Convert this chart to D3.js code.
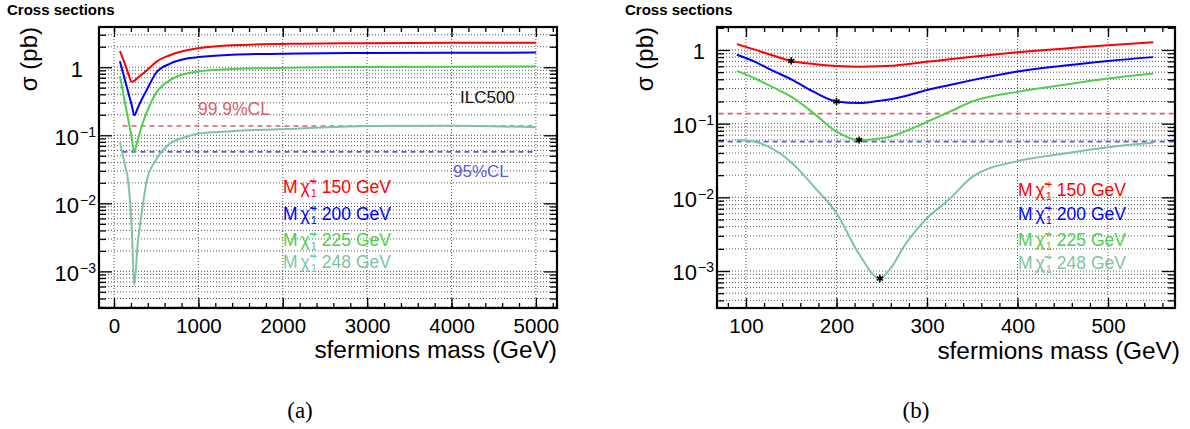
<!DOCTYPE html>
<html>
<head>
<meta charset="utf-8">
<script src="https://cdn.jsdelivr.net/npm/d3@7"></script>
<style>
  body { margin: 0; background: #fff; }
  svg { font-family: "Liberation Sans", Arial, Helvetica, sans-serif; }
</style>
</head>
<body>
<svg id="canvas"></svg>
<script>
// --- data ---
// panel (a): 0 - 5000 GeV
const massA  = [70, 120, 170, 210, 240, 280, 330, 390, 500, 660, 860, 1000, 1400, 2200, 3000, 4000, 5000]
const redA   = [1.72, 1.2, 0.8, 0.61, 0.63, 0.7, 0.78, 0.9, 1.2, 1.5, 1.78, 1.9, 2.1, 2.22, 2.26, 2.28, 2.28]
const blueA  = [1.22, 0.72, 0.42, 0.277, 0.197, 0.25, 0.34, 0.47, 0.83, 1.12, 1.34, 1.41, 1.53, 1.59, 1.62, 1.63, 1.64]
const greenA = [0.74, 0.35, 0.166, 0.092, 0.057, 0.085, 0.138, 0.22, 0.42, 0.64, 0.81, 0.87, 0.94, 0.99, 1.01, 1.02, 1.03]
const tealA  = [0.079, 0.041, 0.02, 0.0045, 0.00063, 0.0025, 0.0075, 0.022, 0.044, 0.075, 0.095, 0.106, 0.115, 0.126, 0.137, 0.138, 0.131]

// panel (b): 90 - 550 GeV
const massB  = [90, 110, 130, 150, 175, 200, 225, 248, 260, 275, 300, 325, 350, 400, 450, 500, 550]
const redB   = [1.2, 1.01, 0.84, 0.71, 0.645, 0.607, 0.593, 0.6, 0.61, 0.635, 0.69, 0.75, 0.81, 0.93, 1.04, 1.16, 1.27]
const blueB  = [0.86, 0.69, 0.52, 0.4, 0.27, 0.2, 0.19, 0.205, 0.215, 0.235, 0.287, 0.335, 0.39, 0.51, 0.61, 0.71, 0.8]
const greenB = [0.52, 0.41, 0.31, 0.232, 0.138, 0.078, 0.06, 0.063, 0.067, 0.078, 0.106, 0.145, 0.2, 0.27, 0.335, 0.41, 0.48]
const tealB  = [0.06, 0.057, 0.045, 0.03, 0.014, 0.0061, 0.0017, 0.00079, 0.0011, 0.0022, 0.0052, 0.0095, 0.019, 0.031, 0.039, 0.048, 0.055]

// chargino masses, marked with stars in (b)
const charginoMass = [150, 200, 225, 248]
const charginoSigma = [0.71, 0.2, 0.06, 0.00079]
const legendLabels = ['150 GeV', '200 GeV', '225 GeV', '248 GeV']

// exclusion lines
const cl999 = 0.137
const cl95 = 0.057
const clRangeA = [100, 5000]
const clRangeB = [50, 600]

const xTicksA = [0, 1000, 2000, 3000, 4000, 5000]
const xTicksB = [100, 200, 300, 400, 500]
const yTicks = [1e-3, 1e-2, 1e-1, 1]

const colors = ['#ff0000', '#0000ff', '#4fcf4f', '#80c3a3']

let w = 1190
let h = 429

let canvas = d3.select('#canvas').attr('width', w).attr('height', h)

let panels = [
  { id: 'a', left: 99, top: 27, right: 557, bottom: 308,
    xDomain: [-178, 5250], yDomain: [2.9e-4, 3.9],
    xTicks: xTicksA, xMinor: d3.range(0, 5250, 200),
    mass: massA, series: [redA, blueA, greenA, tealA],
    clRange: clRangeA, titleX: 7, ytX: 37, xtX: 557, xtY: 358,
    legX: 283, legY: [193, 220, 246, 268], caption: 300, one: 16 },
  { id: 'b', left: 717, top: 27, right: 1175, bottom: 308,
    xDomain: [68, 574], yDomain: [3.15e-4, 2.05],
    xTicks: xTicksB, xMinor: d3.range(80, 574, 20),
    mass: massB, series: [redB, blueB, greenB, tealB],
    clRange: clRangeB, titleX: 625, ytX: 653, xtX: 1180, xtY: 359,
    legX: 1018, legY: [196, 220, 246, 269], caption: 916, one: 12 }
]

// log minor values inside a domain
let logValues = (dom) => {
  let v = []
  for (let e = -4; e <= 1; e++) {
    for (let k = 1; k <= 9; k++) {
      let val = k * Math.pow(10, e)
      if (val >= dom[0] && val <= dom[1]) v.push(val)
    }
  }
  return v
}

let drawPanel = (p) => {
  let pw = p.right - p.left
  let ph = p.bottom - p.top

  let xScale = d3.scaleLinear().domain(p.xDomain).range([0, pw])
  let yScale = d3.scaleLog().domain(p.yDomain).range([ph, 0])

  let g = canvas.append('g').attr('transform', 'translate(' + p.left + ',' + p.top + ')')

  g.append('clipPath').attr('id', 'clip-' + p.id)
    .append('rect').attr('width', pw).attr('height', ph)

  // grid
  let yAll = logValues(p.yDomain)
  g.append('g').selectAll('line').data(yAll).enter().append('line')
    .attr('x1', 0).attr('x2', pw)
    .attr('y1', d => yScale(d)).attr('y2', d => yScale(d))
    .attr('stroke', '#444').attr('stroke-width', 0.9).attr('stroke-dasharray', '1,2')
  g.append('g').selectAll('line').data(p.xTicks).enter().append('line')
    .attr('x1', d => xScale(d)).attr('x2', d => xScale(d))
    .attr('y1', 0).attr('y2', ph)
    .attr('stroke', '#444').attr('stroke-width', 0.9).attr('stroke-dasharray', '1,2')

  // CL lines
  let plot = g.append('g').attr('clip-path', 'url(#clip-' + p.id + ')')
  plot.append('line')
    .attr('x1', xScale(p.clRange[0])).attr('x2', xScale(p.clRange[1]))
    .attr('y1', yScale(cl999)).attr('y2', yScale(cl999))
    .attr('stroke', '#d9606a').attr('stroke-width', 1.6).attr('stroke-dasharray', '5,4')
  plot.append('line')
    .attr('x1', xScale(p.clRange[0])).attr('x2', xScale(p.clRange[1]))
    .attr('y1', yScale(cl95)).attr('y2', yScale(cl95))
    .attr('stroke', '#5a5ae0').attr('stroke-width', 1.6).attr('stroke-dasharray', '5,4')

  // curves
  let line = d3.line()
    .x((d, i) => xScale(p.mass[i]))
    .y(d => yScale(d))
    .curve(d3.curveMonotoneX)
  p.series.forEach((s, i) => {
    plot.append('path')
      .attr('d', line(s))
      .attr('fill', 'none')
      .attr('stroke', colors[i])
      .attr('stroke-width', 2)
  })

  // stars on (b)
  if (p.id === 'b') {
    plot.selectAll('.star').data(charginoMass).enter().append('path')
      .attr('class', 'star')
      .attr('d', d3.symbol(d3.symbolAsterisk, 36))
      .attr('transform', (d, i) => 'translate(' + xScale(d) + ',' + yScale(charginoSigma[i]) + ')')
      .attr('stroke', '#000').attr('stroke-width', 1.6).attr('fill', 'none')
  }

  // axes, ticks inside the frame
  let yMinor = yAll.filter(v => yTicks.indexOf(v) < 0)

  let xAxis = d3.axisBottom(xScale).tickValues(p.xTicks).tickSize(-10).tickPadding(10).tickFormat(d3.format('d'))
  let xMin = d3.axisBottom(xScale).tickValues(p.xMinor).tickSize(-5).tickFormat('')
  let xTop = d3.axisTop(xScale).tickValues(p.xTicks).tickSize(-10).tickFormat('')
  let xTopMin = d3.axisTop(xScale).tickValues(p.xMinor).tickSize(-5).tickFormat('')
  let yAxis = d3.axisLeft(yScale).tickValues(yTicks).tickSize(-13).tickPadding(3).tickFormat(d => d)
  let yMin = d3.axisLeft(yScale).tickValues(yMinor).tickSize(-7).tickFormat('')
  let yRight = d3.axisRight(yScale).tickValues(yTicks).tickSize(-13).tickFormat('')
  let yRightMin = d3.axisRight(yScale).tickValues(yMinor).tickSize(-7).tickFormat('')

  let axes = [
    [xAxis, 0, ph], [xMin, 0, ph], [xTop, 0, 0], [xTopMin, 0, 0],
    [yAxis, 0, 0], [yMin, 0, 0], [yRight, pw, 0], [yRightMin, pw, 0]
  ]
  let axG = axes.map(a => g.append('g')
    .attr('transform', 'translate(' + a[1] + ',' + a[2] + ')')
    .call(a[0]))
  axG.forEach(a => {
    a.select('.domain').remove()
    a.selectAll('.tick line').attr('stroke', '#000').attr('stroke-width', 1.3)
  })
  axG[0].selectAll('.tick text').attr('font-size', 20.5).attr('fill', '#000')
    .attr('font-family', '"Liberation Sans", Arial, sans-serif')

  // y labels as 10^-n
  axG[4].selectAll('.tick text').each(function (d) {
    let t = d3.select(this)
    t.text('').attr('font-size', 22).attr('fill', '#000').attr('dy', '0.4em')
      .attr('font-family', '"Liberation Sans", Arial, sans-serif')
    if (d === 1) {
      t.attr('x', -p.one).text('1')
    } else {
      t.append('tspan').text('10')
      t.append('tspan').attr('font-size', 14).attr('dy', -8).attr('dx', 1)
        .text('\u2212' + Math.round(-Math.log10(d)))
    }
  })

  // frame
  g.append('rect').attr('width', pw).attr('height', ph)
    .attr('fill', 'none').attr('stroke', '#000').attr('stroke-width', 2.2)

  // titles
  canvas.append('text').attr('x', p.titleX).attr('y', 15)
    .attr('font-size', 15).attr('font-weight', 'bold').text('Cross sections')
  canvas.append('text')
    .attr('transform', 'translate(' + p.ytX + ',' + p.top + ') rotate(-90)')
    .attr('text-anchor', 'end').attr('font-size', 24).text('\u03c3 (pb)')
  canvas.append('text').attr('x', p.xtX).attr('y', p.xtY)
    .attr('text-anchor', 'end').attr('font-size', 24.4).text('sfermions mass (GeV)')

  // legend: M chi~ (+ over 1) mass
  legendLabels.forEach((lab, i) => {
    let t = canvas.append('text').attr('x', p.legX).attr('y', p.legY[i])
      .attr('font-size', 17.5).attr('fill', colors[i])
    t.append('tspan').text('M')
    t.append('tspan').attr('dx', 3).text('\u03c7\u0303')
    t.append('tspan').attr('dx', 1).attr('dy', -8).attr('font-size', 11).text('+')
    t.append('tspan').attr('dx', -6.5).attr('dy', 12).attr('font-size', 11).text('1')
    t.append('tspan').attr('dx', 5).attr('dy', -4).text(lab)
  })

  // caption
  canvas.append('text').attr('x', p.caption).attr('y', 418)
    .attr('text-anchor', 'middle').attr('font-size', 23)
    .attr('font-family', '"Liberation Serif", "DejaVu Serif", serif')
    .text('(' + p.id + ')')

  return g
}

drawPanel(panels[0])
drawPanel(panels[1])

// extra labels on (a)
canvas.append('text').attr('x', 198).attr('y', 115).attr('font-size', 17.5)
  .attr('fill', '#d9606a').text('99.9%CL')
canvas.append('text').attr('x', 460).attr('y', 103).attr('font-size', 17)
  .attr('fill', '#111').text('ILC500')
canvas.append('text').attr('x', 453).attr('y', 177).attr('font-size', 17)
  .attr('fill', '#5a5ae0').text('95%CL')
</script>
</body>
</html>
